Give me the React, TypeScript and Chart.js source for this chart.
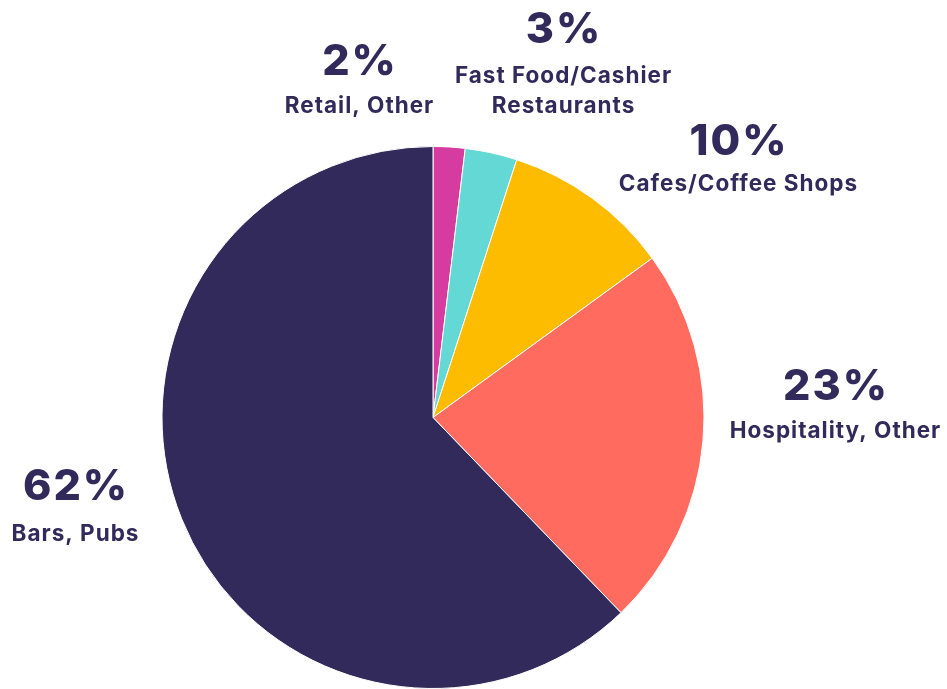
import React, { useEffect, useRef } from "react";
import { Chart, registerables } from "chart.js";

Chart.register(...registerables);

const categories = ["Retail, Other", "Fast Food/Cashier Restaurants", "Cafes/Coffee Shops", "Hospitality, Other", "Bars, Pubs"];
const labelLines = [["Retail, Other"], ["Fast Food/Cashier", "Restaurants"], ["Cafes/Coffee Shops"], ["Hospitality, Other"], ["Bars, Pubs"]];
const shares = [1.9, 3.1, 10.0, 22.8, 62.2];
const sliceColors = ["#d63ba0", "#63d8d4", "#fdbc00", "#ff6b5f", "#312a5a"];

const TEXT_COLOR = "#312a5a";
const FONT = "Inter, 'Noto Sans', sans-serif";

// anchor layout for the annotations: [centerX, percentBaseline, firstLabelBaseline]
const labelLayout = [
  [359, 75, 113],
  [563, 43, 83],
  [738, 155, 191],
  [835, 400, 438],
  [75, 500, 541],
];

const labelPlugin = {
  id: "outerLabels",
  afterDraw(chart: any) {
    const ctx = chart.ctx;
    ctx.save();
    ctx.fillStyle = TEXT_COLOR;
    ctx.textAlign = "center";
    ctx.textBaseline = "alphabetic";
    shares.forEach((v, i) => {
      const [x, pb, lb] = labelLayout[i];
      ctx.font = `800 43px ${FONT}`;
      ctx.letterSpacing = "2px";
      ctx.fillText(`${Math.round(v)}%`, x + 1, pb);
      ctx.font = `700 22.5px ${FONT}`;
      ctx.letterSpacing = "1px";
      labelLines[i].forEach((line, j) => {
        ctx.fillText(line, x + 0.5, lb + j * 30);
      });
    });
    ctx.restore();
  },
};

export default function App() {
  const ref = useRef<HTMLCanvasElement | null>(null);
  useEffect(() => {
    document.body.style.margin = "0";
    const chart = new Chart(ref.current!, {
      type: "pie",
      data: {
        labels: categories,
        datasets: [
          {
            data: shares,
            backgroundColor: sliceColors,
            borderColor: "#ffffff",
            borderWidth: 1,
          },
        ],
      },
      options: {
        animation: false,
        responsive: false,
        layout: { padding: { left: 161, right: 242, top: 146, bottom: 0 } },
        plugins: { legend: { display: false }, tooltip: { enabled: false } },
      },
      plugins: [labelPlugin],
    });
    return () => chart.destroy();
  }, []);
  return (
    <div style={{ position: "absolute", left: 0, top: 0, width: 947, height: 689, background: "#fff" }}>
      <canvas ref={ref} width={947} height={689} style={{ width: 947, height: 689 }} />
    </div>
  );
}
